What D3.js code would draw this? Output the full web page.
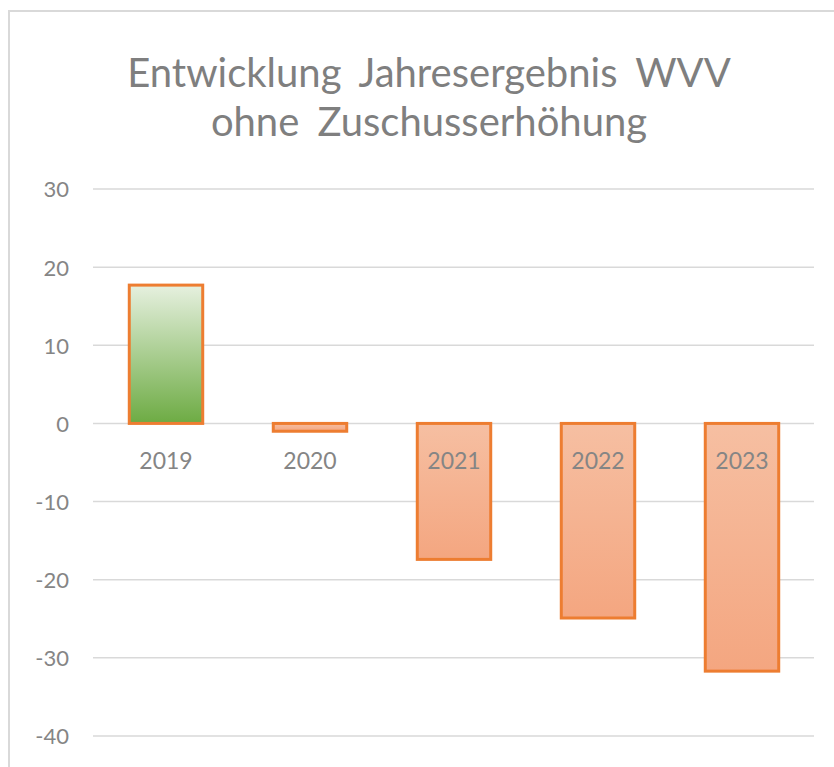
<!DOCTYPE html>
<html>
<head>
<meta charset="utf-8">
<script src="https://cdnjs.cloudflare.com/ajax/libs/d3/7.8.5/d3.min.js"></script>
<style>
  body { margin: 0; background: #fff; }
  svg { display: block; }
</style>
</head>
<body>
<div id="chart"></div>
<script>
var years = ["2019", "2020", "2021", "2022", "2023"];
var results = [17.7, -1.0, -17.4, -24.9, -31.7];
var yTicks = [30, 20, 10, 0, -10, -20, -30, -40];
var titleLines = ["Entwicklung Jahresergebnis WVV", "ohne Zuschusserhöhung"];

var width = 834, height = 767;
var margin = {top: 190, right: 20, bottom: 31, left: 94};

var svg = d3.select("#chart").append("svg")
    .attr("width", width)
    .attr("height", height);

// gradients
var defs = svg.append("defs");
var gPos = defs.append("linearGradient").attr("id", "gradPos")
    .attr("x1", 0).attr("y1", 0).attr("x2", 0).attr("y2", 1);
gPos.append("stop").attr("offset", "0%").attr("stop-color", "#e6f0df");
gPos.append("stop").attr("offset", "100%").attr("stop-color", "#6dab43");
var gNeg = defs.append("linearGradient").attr("id", "gradNeg")
    .attr("x1", 0).attr("y1", 0).attr("x2", 0).attr("y2", 1);
gNeg.append("stop").attr("offset", "0%").attr("stop-color", "#f6bfa2");
gNeg.append("stop").attr("offset", "100%").attr("stop-color", "#f4a680");

// chart frame (cut off at right and bottom)
svg.append("rect")
    .attr("x", 9).attr("y", 11)
    .attr("width", width + 20).attr("height", height + 20)
    .attr("fill", "none")
    .attr("stroke", "#d9d9d9")
    .attr("stroke-width", 2);

var x = d3.scaleBand()
    .domain(years)
    .range([margin.left, width - margin.right])
    .paddingInner(0.49)
    .paddingOuter(0.245);

var y = d3.scaleLinear()
    .domain([-40, 30])
    .range([736, 189]);

// gridlines
svg.append("g")
    .selectAll("line")
    .data(yTicks)
    .join("line")
    .attr("x1", margin.left - 1)
    .attr("x2", width - margin.right)
    .attr("y1", function(d) { return y(d); })
    .attr("y2", function(d) { return y(d); })
    .attr("stroke", "#d9d9d9")
    .attr("stroke-width", 1.5);

// y axis labels (plain hyphen like the original)
var yAxis = d3.axisLeft(y).tickValues(yTicks).tickSize(0).tickPadding(0)
    .tickFormat(function(d) { return String(d); });
svg.append("g")
    .attr("transform", "translate(69,0)")
    .call(yAxis)
    .call(function(g) { g.select(".domain").remove(); })
    .selectAll("text")
    .attr("dy", "0.36em")
    .style("font-family", "Lato, 'Open Sans', sans-serif")
    .style("font-size", "22px")
    .style("font-variant-numeric", "tabular-nums")
    .attr("fill", "#858585");

// bars
svg.append("g")
    .selectAll("rect")
    .data(results)
    .join("rect")
    .attr("x", function(d, i) { return x(years[i]); })
    .attr("y", function(d) { return y(Math.max(0, d)); })
    .attr("width", x.bandwidth())
    .attr("height", function(d) { return Math.abs(y(d) - y(0)); })
    .attr("fill", function(d) { return d >= 0 ? "url(#gradPos)" : "url(#gradNeg)"; })
    .attr("stroke", "#ed7d31")
    .attr("stroke-width", 3);

// category labels
var xAxis = d3.axisBottom(x).tickSize(0).tickPadding(0);
svg.append("g")
    .attr("transform", "translate(0," + y(0) + ")")
    .call(xAxis)
    .call(function(g) { g.select(".domain").remove(); })
    .selectAll("text")
    .attr("y", 46)
    .attr("dy", 0)
    .style("font-family", "Lato, 'Open Sans', sans-serif")
    .style("font-size", "23px")
    .style("font-variant-numeric", "tabular-nums")
    .attr("fill", "#858585");

// title
svg.append("g")
    .selectAll("text")
    .data(titleLines)
    .join("text")
    .attr("x", 429)
    .attr("y", function(d, i) { return 87 + i * 49; })
    .attr("text-anchor", "middle")
    .style("font-family", "Lato, 'Open Sans', sans-serif")
    .style("font-size", "40px")
    .style("word-spacing", "8px")
    .attr("fill", "#7f7f7f")
    .text(function(d) { return d; });
</script>
</body>
</html>
